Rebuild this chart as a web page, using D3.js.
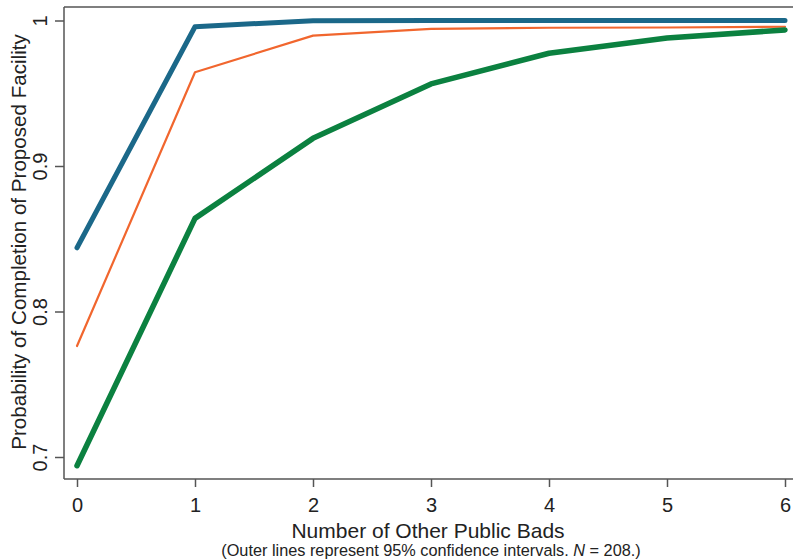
<!DOCTYPE html>
<html>
<head>
<meta charset="utf-8">
<script src="https://cdn.jsdelivr.net/npm/d3@7"></script>
<style>
  html, body { margin: 0; padding: 0; background: #fff; }
  svg { display: block; font-family: "Liberation Sans", Arial, sans-serif; }
</style>
</head>
<body>
<svg id="chart" width="793" height="560"></svg>
<script>
// ---- data ----
const xValues = [0, 1, 2, 3, 4, 5, 6];
const upperCI = [0.8438, 0.9957, 0.9999, 1.0, 1.0, 1.0, 1.0];
const estimate = [0.7763, 0.9644, 0.9896, 0.9942, 0.9950, 0.9952, 0.9957];
const lowerCI = [0.6940, 0.8640, 0.9190, 0.9564, 0.9775, 0.9880, 0.9935];
const xTicks = [0, 1, 2, 3, 4, 5, 6];
const yTicks = [0.7, 0.8, 0.9, 1];
const xTitle = "Number of Other Public Bads";
const yTitle = "Probability of Completion of Proposed Facility";

const svg = d3.select("#chart");
const axisColor = "#555";
const textColor = "#222";

const x = d3.scaleLinear().domain([0, 6]).range([77, 785]);
const y = d3.scaleLinear().domain([0.7, 1]).range([457, 20.5]);

const plotLeft = 64, plotTop = 7, plotBottom = 479, plotRight = 793;

// frame lines
svg.append("line").attr("x1", plotLeft).attr("x2", plotLeft).attr("y1", plotTop).attr("y2", plotBottom)
  .attr("stroke", axisColor).attr("stroke-width", 1.5);
svg.append("line").attr("x1", plotLeft).attr("x2", plotRight).attr("y1", plotBottom).attr("y2", plotBottom)
  .attr("stroke", axisColor).attr("stroke-width", 1.5);
svg.append("line").attr("x1", plotLeft).attr("x2", plotRight).attr("y1", plotTop).attr("y2", plotTop)
  .attr("stroke", axisColor).attr("stroke-width", 1.5);

// x axis
const gx = svg.append("g").attr("transform", `translate(0,${plotBottom})`)
  .call(d3.axisBottom(x).tickValues(xTicks).tickFormat(d3.format("d")).tickSize(8).tickSizeOuter(0));
gx.select(".domain").remove();
gx.selectAll(".tick line").attr("stroke", axisColor).attr("stroke-width", 1.5);
gx.selectAll(".tick text").attr("y", 32.5).attr("dy", 0)
  .attr("font-size", 20).attr("fill", textColor).attr("font-family", "Liberation Sans, Arial, sans-serif");

// y axis
const gy = svg.append("g").attr("transform", `translate(${plotLeft},0)`)
  .call(d3.axisLeft(y).tickValues(yTicks).tickFormat(d => d === 1 ? "1" : d3.format(".1f")(d)).tickSize(9).tickSizeOuter(0));
gy.select(".domain").remove();
gy.selectAll(".tick line").attr("stroke", axisColor).attr("stroke-width", 1.5);
gy.selectAll(".tick text")
  .attr("x", 0).attr("y", 0).attr("dy", 0)
  .attr("text-anchor", "middle")
  .attr("transform", "translate(-17,0) rotate(-90)")
  .attr("font-size", 20).attr("fill", textColor).attr("font-family", "Liberation Sans, Arial, sans-serif");

// titles
svg.append("text").attr("x", 428).attr("y", 538).attr("text-anchor", "middle")
  .attr("font-size", 21).attr("fill", textColor).text(xTitle);

const cap = svg.append("text").attr("x", 431).attr("y", 555.5).attr("text-anchor", "middle")
  .attr("font-size", 16.3).attr("fill", textColor);
cap.append("tspan").text("(Outer lines represent 95% confidence intervals. ");
cap.append("tspan").attr("font-style", "italic").text("N");
cap.append("tspan").text(" = 208.)");

svg.append("text").attr("transform", "translate(25.5,242) rotate(-90)").attr("text-anchor", "middle")
  .attr("font-size", 20.6).attr("fill", textColor).text(yTitle);

// lines
const line = d3.line().x((d, i) => x(xValues[i])).y(d => y(d));
const series = [
  { values: upperCI, color: "#1b6889", width: 5 },
  { values: estimate, color: "#f1662e", width: 2.2 },
  { values: lowerCI, color: "#0b8140", width: 5.5 }
];
svg.append("g").selectAll("path").data(series).join("path")
  .attr("d", d => line(d.values))
  .attr("fill", "none")
  .attr("stroke", d => d.color)
  .attr("stroke-width", d => d.width)
  .attr("stroke-linecap", "round")
  .attr("stroke-linejoin", "round");
</script>
</body>
</html>
